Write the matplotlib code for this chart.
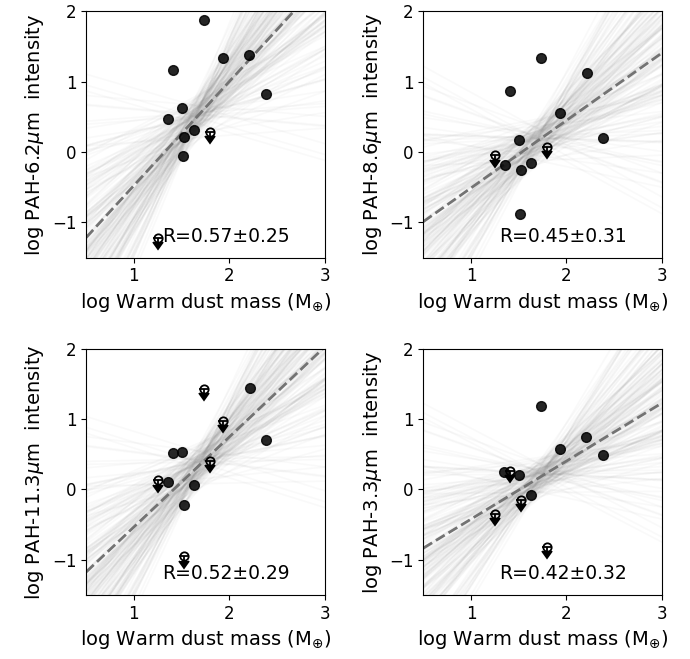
import numpy as np
import matplotlib.pyplot as plt

plt.rcParams['font.family'] = ['DejaVu Sans']
plt.rcParams['font.size'] = 14
plt.rcParams['xtick.labelsize'] = 12
plt.rcParams['ytick.labelsize'] = 12

# detections (x = log warm dust mass, y = log band intensity)
x_det = [
    [1.73, 1.93, 2.21, 1.41, 2.38, 1.50, 1.36, 1.63, 1.52, 1.51],
    [1.73, 2.22, 1.41, 1.93, 2.38, 1.50, 1.36, 1.52, 1.63, 1.51],
    [2.22, 2.38, 1.41, 1.50, 1.36, 1.63, 1.52],
    [1.73, 2.21, 1.93, 2.38, 1.35, 1.50, 1.63],
]
y_det = [
    [1.87, 1.34, 1.38, 1.17, 0.83, 0.63, 0.47, 0.31, 0.21, -0.06],
    [1.34, 1.12, 0.87, 0.55, 0.20, 0.17, -0.19, -0.25, -0.16, -0.88],
    [1.44, 0.70, 0.52, 0.53, 0.10, 0.07, -0.22],
    [1.18, 0.75, 0.58, 0.49, 0.25, 0.21, -0.08],
]
# upper limits
x_lim = [
    [1.80, 1.25],
    [1.25, 1.80],
    [1.74, 1.93, 1.80, 1.25, 1.53],
    [1.41, 1.52, 1.25, 1.80],
]
y_lim = [
    [0.28, -1.22],
    [-0.05, 0.07],
    [1.43, 0.97, 0.41, 0.13, -0.95],
    [0.26, -0.15, -0.35, -0.81],
]

bands = ['6.2', '8.6', '11.3', '3.3']
r_text = ['R=0.57±0.25', 'R=0.45±0.31', 'R=0.52±0.29', 'R=0.42±0.32']

# best fit: slope, intercept
slope = [1.476, 0.958, 1.278, 0.824]
icpt = [-1.952, -1.469, -1.810, -1.245]
# pivot of the fan of posterior fits and its spreads
piv_x = [1.65, 1.70, 1.70, 1.75]
slope_sd = [0.55, 0.50, 0.50, 0.45]
icpt_sd = [0.14, 0.14, 0.14, 0.12]

# standardised offsets of the sampled fits
zs = [0.3, -1.2, 0.8, 1.9, -0.4, 0.1, -2.3, 1.1, -0.7, 0.5, 2.6, -1.6, 0.0, 0.9, -0.2,
      1.4, -1.0, 0.6, -2.9, 0.2, 1.7, -0.5, -1.4, 0.4, 2.1, -0.9, 0.7, -0.1, 1.2, -1.8,
      0.3, 3.2, -0.6, -0.3, 1.0, -2.0, 0.5, 1.5, -1.1, 0.1, -3.4, 0.8, 2.4, -0.8, 0.2,
      -1.3, 1.3, -0.4, 0.6, -2.5, 1.8, 0.0, -0.7, 0.9, -1.5, 2.9, -0.2, 0.4, -1.0, 1.1]
zi = [-0.5, 0.9, 0.2, -1.3, 1.6, -0.1, 0.7, -0.8, 1.1, -2.0, 0.4, 0.0, -0.6, 1.9, -1.1,
      0.3, 0.8, -0.3, 1.3, -1.7, 0.1, -0.9, 2.2, 0.5, -0.4, 1.0, -1.5, 0.6, -0.2, 0.2,
      1.4, -0.7, -1.2, 0.9, 0.0, 0.3, -2.4, 1.7, 0.4, -0.5, 1.2, -0.9, 0.1, 0.6, -1.4,
      2.0, -0.3, 0.7, -1.0, 0.5, -0.1, 1.5, -0.6, 0.8, -1.9, 0.2, 1.0, -0.8, 0.3, -1.2]

pairs = []
for shift in (0, 20, 40):
    pairs += list(zip(zs, zi[shift:] + zi[:shift]))

fig, axes = plt.subplots(2, 2, figsize=(6.9, 6.59), dpi=100)
plt.subplots_adjust(left=0.125, right=0.959, top=0.983, bottom=0.097,
                    wspace=0.414, hspace=0.37)

xx = np.array([0.5, 3.0])
for k, ax in enumerate(axes.flat):
    x0 = piv_x[k]
    y0 = slope[k] * x0 + icpt[k]
    for a, b in pairs:
        s = slope[k] + slope_sd[k] * a
        ax.plot(xx, y0 + icpt_sd[k] * b + s * (xx - x0), color='0.45', alpha=0.04, lw=1.2)
    ax.plot(xx, slope[k] * xx + icpt[k], '--', color='0.45', lw=2)
    ax.plot(x_det[k], y_det[k], 'o', color='k', ms=7, alpha=0.85)
    ax.errorbar(x_lim[k], y_lim[k], yerr=0.06, uplims=True, fmt='o', color='k',
                mfc='none', ms=6, mew=1.3, elinewidth=1.3, capsize=3.5)
    ax.text(0.32, 0.086, r_text[k], transform=ax.transAxes, va='center', fontsize=13.5)
    ax.set_xlim(0.5, 3)
    ax.set_ylim(-1.5, 2)
    ax.set_xticks([1, 2, 3])
    ax.set_yticks([-1, 0, 1, 2])
    ax.set_xlabel(r'log Warm dust mass (M$_{\oplus}$)')
    ax.set_ylabel('log PAH-' + bands[k] + r'$\mu$m  intensity')

plt.savefig('out.png')
